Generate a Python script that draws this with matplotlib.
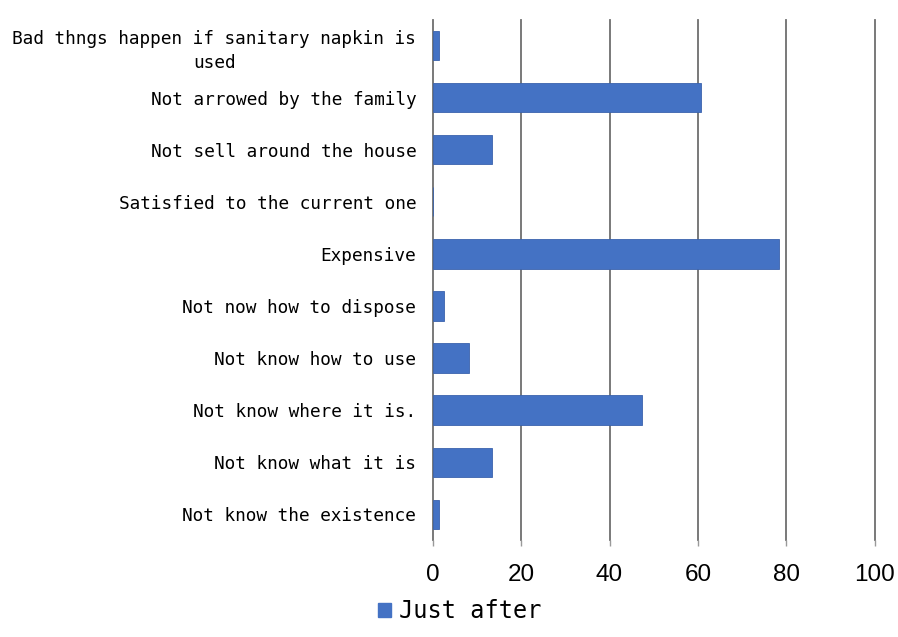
import numpy as np
import matplotlib.pyplot as plt
from matplotlib.patches import Patch

# reasons, listed bottom to top
reasons = [
    "Not know the existence",
    "Not know what it is",
    "Not know where it is.",
    "Not know how to use",
    "Not now how to dispose",
    "Expensive",
    "Satisfied to the current one",
    "Not sell around the house",
    "Not arrowed by the family",
    "Bad thngs happen if sanitary napkin is\nused",
]
just_after = [1.4, 13.4, 47.4, 8.1, 2.6, 78.3, 0, 13.4, 60.7, 1.5]
xticks = [0, 20, 40, 60, 80, 100]

bar_color = "#4472C4"
label_font = "DejaVu Sans Mono"

fig = plt.figure(figsize=(8.98, 6.37), dpi=100)
ax = fig.add_axes([0.482, 0.152, 0.492, 0.817])

y = np.arange(len(reasons))
ax.barh(y, just_after, height=0.56, color=bar_color, edgecolor="#3b63ad",
        linewidth=0.6, zorder=3)

ax.set_xlim(0, 100)
ax.set_ylim(-0.5, len(reasons) - 0.5)
ax.set_xticks(xticks)
ax.set_xticklabels([str(t) for t in xticks], fontsize=17.5,
                   fontfamily="Liberation Sans")
ax.set_yticks(y)
ax.set_yticklabels(reasons, fontsize=12.8, fontfamily=label_font,
                   multialignment="center", linespacing=1.45)

ax.xaxis.grid(True, color="#6e6e6e", linewidth=1.3, zorder=0)
for gl in ax.get_xgridlines():
    gl.set_clip_on(False)
ax.tick_params(axis="x", length=4, width=1, color="#9a9a9a", pad=13)
ax.tick_params(axis="y", length=0, pad=12)
for side in ["top", "right", "bottom", "left"]:
    ax.spines[side].set_visible(False)

handle = Patch(facecolor=bar_color, edgecolor=bar_color)
fig.legend([handle], ["Just after"], loc="lower center",
           bbox_to_anchor=(0.512, -0.012), frameon=False,
           prop={"family": label_font, "size": 17},
           handlelength=0.55, handleheight=0.55, handletextpad=0.3)

fig.savefig("out.png", dpi=100)
